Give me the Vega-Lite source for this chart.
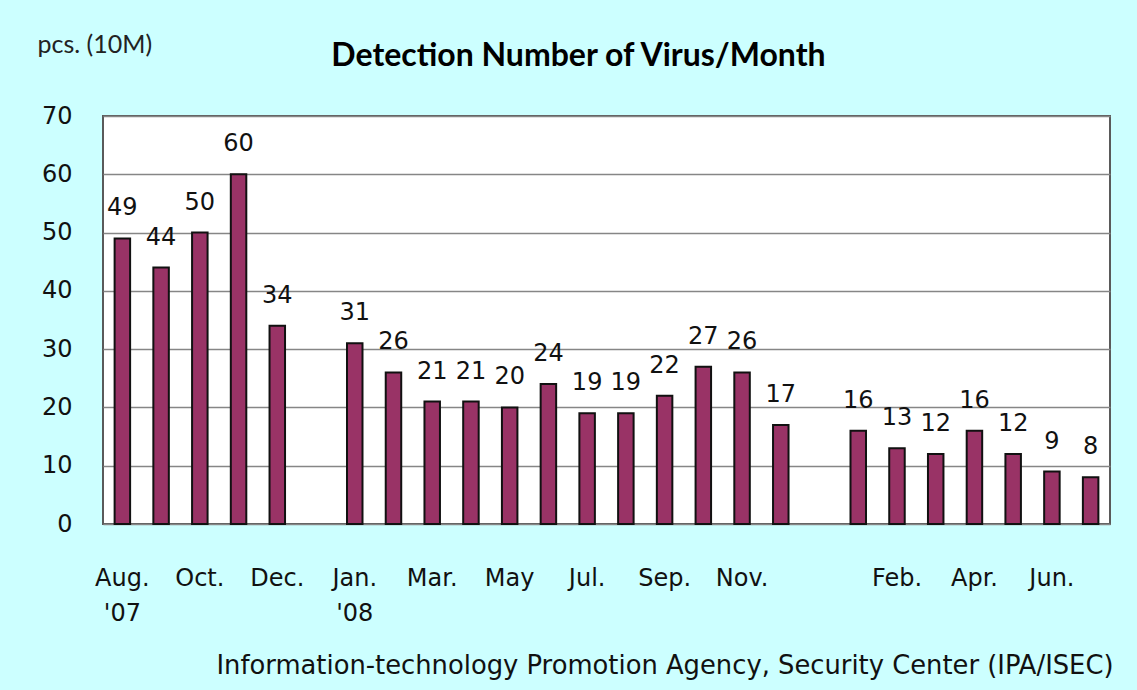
{
  "$schema": "https://vega.github.io/schema/vega-lite/v6.json",
  "width": 1007,
  "height": 408,
  "autosize": {"type": "none"},
  "padding": {"left": 103, "top": 116, "right": 27, "bottom": 166},
  "background": "#CCFFFF",
  "title": {
    "text": "Detection Number of Virus/Month",
    "font": "Lato",
    "fontSize": 32,
    "fontWeight": "bold",
    "color": "#000000",
    "anchor": "middle",
    "frame": "group",
    "baseline": "alphabetic",
    "dx": -28,
    "dy": 66,
    "offset": 0
  },
  "data": {
    "values": [
      {"month": "2007-08", "count": 49},
      {"month": "2007-09", "count": 44},
      {"month": "2007-10", "count": 50},
      {"month": "2007-11", "count": 60},
      {"month": "2007-12", "count": 34},
      {"month": "2008-01", "count": 31},
      {"month": "2008-02", "count": 26},
      {"month": "2008-03", "count": 21},
      {"month": "2008-04", "count": 21},
      {"month": "2008-05", "count": 20},
      {"month": "2008-06", "count": 24},
      {"month": "2008-07", "count": 19},
      {"month": "2008-08", "count": 19},
      {"month": "2008-09", "count": 22},
      {"month": "2008-10", "count": 27},
      {"month": "2008-11", "count": 26},
      {"month": "2008-12", "count": 17},
      {"month": "2009-01", "count": 16},
      {"month": "2009-02", "count": 13},
      {"month": "2009-03", "count": 12},
      {"month": "2009-04", "count": 16},
      {"month": "2009-05", "count": 12},
      {"month": "2009-06", "count": 9},
      {"month": "2009-07", "count": 8}
    ]
  },
  "encoding": {
    "x": {
      "field": "month",
      "type": "ordinal",
      "scale": {
        "domain": ["2007-08", "2007-09", "2007-10", "2007-11", "2007-12", "gap-1", "2008-01", "2008-02", "2008-03", "2008-04", "2008-05", "2008-06", "2008-07", "2008-08", "2008-09", "2008-10", "2008-11", "2008-12", "gap-2", "2009-01", "2009-02", "2009-03", "2009-04", "2009-05", "2009-06", "2009-07"],
        "paddingInner": 0.6,
        "paddingOuter": 0.3
      },
      "axis": {
        "title": "Information-technology Promotion Agency, Security Center (IPA/ISEC)",
        "labelExpr": "({'2007-08': ['Aug.', \"'07\"], '2007-10': 'Oct.', '2007-12': 'Dec.', '2008-01': ['Jan.', \"'08\"], '2008-03': 'Mar.', '2008-05': 'May', '2008-07': 'Jul.', '2008-09': 'Sep.', '2008-11': 'Nov.', '2009-02': 'Feb.', '2009-04': 'Apr.', '2009-06': 'Jun.'})[datum.value] || ''",
        "labelAngle": 0,
        "labelFont": "DejaVu Sans",
        "labelFontSize": 24,
        "labelColor": "#111111",
        "labelBaseline": "top",
        "labelPadding": 42,
        "labelLineHeight": 35,
        "ticks": false,
        "domain": false,
        "grid": false,
        "titleFont": "DejaVu Sans",
        "titleFontSize": 25.8,
        "titleFontWeight": "normal",
        "titleColor": "#111111",
        "titleAnchor": "end",
        "titleAlign": "right",
        "titleBaseline": "alphabetic",
        "titleX": 1010,
        "titleY": 149
      }
    },
    "y": {
      "field": "count",
      "type": "quantitative",
      "scale": {"domain": [0, 70], "nice": false},
      "axis": {
        "title": "pcs. (10M)",
        "values": [0, 10, 20, 30, 40, 50, 60, 70],
        "grid": true,
        "gridColor": "#868686",
        "gridWidth": 1.5,
        "domain": false,
        "ticks": false,
        "labelFont": "DejaVu Sans",
        "labelFontSize": 24,
        "labelColor": "#111111",
        "labelPadding": 31,
        "titleAngle": 0,
        "titleAlign": "left",
        "titleBaseline": "alphabetic",
        "titleX": -66,
        "titleY": -64,
        "titleFont": "Lato",
        "titleFontSize": 25,
        "titleFontWeight": "normal",
        "titleColor": "#222222"
      }
    }
  },
  "layer": [
    {
      "mark": {"type": "bar", "color": "#993366", "stroke": "#111111", "strokeWidth": 2}
    },
    {
      "mark": {"type": "text", "baseline": "alphabetic", "dy": -23, "font": "DejaVu Sans", "fontSize": 24, "color": "#111111"},
      "encoding": {"text": {"field": "count", "type": "quantitative"}}
    }
  ],
  "config": {
    "view": {"fill": "#FFFFFF", "stroke": "#5a5a5a", "strokeWidth": 2}
  }
}
